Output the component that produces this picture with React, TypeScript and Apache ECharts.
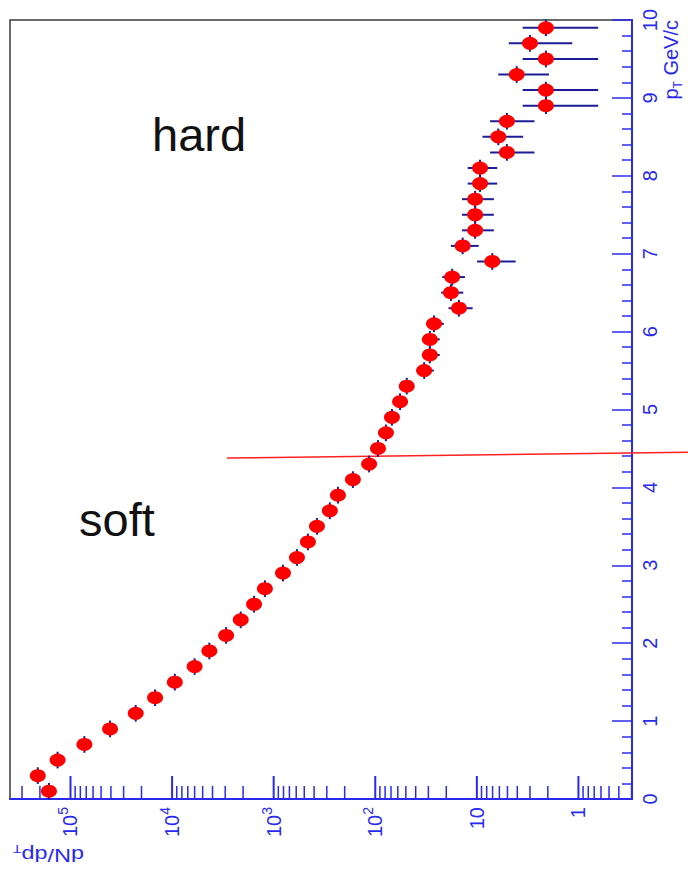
import React, { useEffect, useRef } from "react";
import * as echarts from "echarts";

// ---- data ----
const pT = [
  0.1, 0.3, 0.5, 0.7, 0.9, 1.1, 1.3, 1.5, 1.7, 1.9,
  2.1, 2.3, 2.5, 2.7, 2.9, 3.1, 3.3, 3.5, 3.7, 3.9,
  4.1, 4.3, 4.5, 4.7, 4.9, 5.1, 5.3, 5.5, 5.7, 5.9,
  6.1, 6.3, 6.5, 6.7, 6.9, 7.1, 7.3, 7.5, 7.7, 7.9,
  8.1, 8.3, 8.5, 8.7, 8.9, 9.1, 9.3, 9.5, 9.7, 9.9,
];
const dNdpT = [
  1.63e5, 2.1e5, 1.34e5, 7.3e4, 4.08e4, 2.28e4, 1.47e4, 9.4e3, 6.0e3, 4.3e3,
  2.94e3, 2.11e3, 1.56e3, 1.22e3, 810, 590, 460, 375, 280, 233,
  166, 115, 94, 78.5, 68.5, 57, 49, 33, 29, 29,
  26.4, 15, 18, 17.5, 7.05, 13.8, 10.4, 10.4, 10.4, 9.3,
  9.3, 5.06, 6.15, 5.06, 2.09, 2.09, 4.05, 2.09, 3.0, 2.09,
];
const dNdpTErr = [
  4000, 5000, 3500, 2000, 1200, 700, 450, 300, 200, 150,
  110, 80, 65, 55, 40, 30, 25, 22, 18, 16,
  13, 10, 8, 7, 6.5, 6, 7.5, 6.5, 5.8, 5.8,
  5.3, 4.0, 4.4, 4.4, 2.9, 4.2, 3.6, 3.6, 3.6, 3.0,
  3.0, 2.35, 2.65, 2.35, 1.45, 1.45, 2.1, 1.45, 1.85, 1.45,
];
const pTHalfBin = 0.107;

const xMajorTicks = [1e5, 1e4, 1e3, 1e2, 10, 1];
const xMinorMantissas = [2, 3, 4, 5, 6, 7, 8, 9];
const xTickDecades = [-1, 0, 1, 2, 3, 4, 5];
const xMin = 0.297;
const xMax = 3.94e5;

// soft/hard separator line (dN/dpT, pT), continued to the right page edge
const separator = [
  [2880, 4.377],
  [0.297, 4.443],
];

const BLUE = "#2a2aee";
const BAR = "#1c1c96";
const FONT = "'Liberation Sans', Arial, Helvetica, sans-serif";

export default function App() {
  const ref = useRef<HTMLDivElement>(null);

  useEffect(() => {
    const chart = echarts.init(ref.current!, null, { renderer: "svg" });

    const minorTicks: number[] = [];
    xTickDecades.forEach((d) =>
      xMinorMantissas.forEach((m) => {
        const v = m * Math.pow(10, d);
        if (v > xMin && v < xMax) minorTicks.push(v);
      })
    );
    const tickData = [
      ...xMajorTicks.map((v) => [v, 0, 1]),
      ...minorTicks.map((v) => [v, 0, 0]),
    ];

    const points = pT.map((p, i) => [dNdpT[i], p]);
    const errData = pT.map((p, i) => [dNdpT[i], p, dNdpTErr[i]]);

    const option: any = {
      animation: false,
      backgroundColor: "#ffffff",
      grid: {
        left: 10,
        right: 56,
        top: 20,
        bottom: 71,
        show: true,
        borderColor: "#3a3a3a",
        borderWidth: 1.5,
      },
      xAxis: {
        type: "log",
        logBase: 10,
        inverse: true,
        min: xMin,
        max: xMax,
        axisLine: { show: true, lineStyle: { color: BLUE, width: 2 } },
        axisTick: { show: false },
        splitLine: { show: false },
        axisLabel: {
          show: true,
          rotate: 90,
          margin: 8,
          showMinLabel: false,
          showMaxLabel: false,
          color: BLUE,
          fontFamily: FONT,
          fontSize: 20,
          formatter: (v: number) => {
            const e = Math.round(Math.log10(v));
            if (e === 0) return "{n|1}";
            if (e === 1) return "{n|10}";
            return "{n|10}{s|" + e + "}";
          },
          rich: {
            n: { fontSize: 20, color: BLUE, fontFamily: FONT, lineHeight: 28 },
            s: {
              fontSize: 14,
              color: BLUE,
              fontFamily: FONT,
              verticalAlign: "top",
              lineHeight: 28,
            },
          },
        },
      },
      yAxis: {
        type: "value",
        position: "right",
        min: 0,
        max: 10,
        interval: 1,
        axisLine: { show: true, lineStyle: { color: BLUE, width: 2 } },
        axisTick: {
          show: true,
          inside: true,
          length: 20,
          lineStyle: { color: BLUE, width: 1.5 },
        },
        minorTick: {
          show: true,
          splitNumber: 5,
          length: 10,
          lineStyle: { color: BLUE, width: 1.5 },
        },
        splitLine: { show: false },
        minorSplitLine: { show: false },
        axisLabel: {
          rotate: 90,
          margin: 8,
          color: BLUE,
          fontFamily: FONT,
          fontSize: 20,
        },
      },
      series: [
        {
          type: "custom",
          name: "ticks",
          coordinateSystem: "cartesian2d",
          data: tickData,
          encode: { x: 0, y: 1 },
          z: 1,
          silent: true,
          renderItem: (params: any, api: any) => {
            const v = api.value(0);
            const major = api.value(2) === 1;
            const p = api.coord([v, 0]);
            const len = major ? 23 : 13;
            return {
              type: "line",
              shape: { x1: p[0], y1: p[1], x2: p[0], y2: p[1] - len },
              style: { stroke: BLUE, lineWidth: major ? 2 : 1.5 },
            };
          },
        },
        {
          type: "custom",
          name: "separator",
          coordinateSystem: "cartesian2d",
          data: [[separator[0][0], separator[0][1], separator[1][0], separator[1][1]]],
          encode: { x: 0, y: 1 },
          clip: false,
          z: 2,
          silent: true,
          renderItem: (params: any, api: any) => {
            const p1 = api.coord([api.value(0), api.value(1)]);
            const p2 = api.coord([api.value(2), api.value(3)]);
            const xEnd = api.getWidth();
            const yEnd = p1[1] + ((p2[1] - p1[1]) * (xEnd - p1[0])) / (p2[0] - p1[0]);
            return {
              type: "line",
              shape: { x1: p1[0], y1: p1[1], x2: xEnd, y2: yEnd },
              style: { stroke: "#ff2020", lineWidth: 1.5 },
            };
          },
        },
        {
          type: "custom",
          name: "errors",
          coordinateSystem: "cartesian2d",
          data: errData,
          encode: { x: 0, y: 1 },
          z: 3,
          silent: true,
          renderItem: (params: any, api: any) => {
            const x = api.value(0);
            const y = api.value(1);
            const ex = api.value(2);
            const a = api.coord([x + ex, y]);
            const b = api.coord([Math.max(x - ex, 1e-6), y]);
            const c = api.coord([x, y - pTHalfBin]);
            const d = api.coord([x, y + pTHalfBin]);
            return {
              type: "group",
              children: [
                {
                  type: "line",
                  shape: { x1: a[0], y1: a[1], x2: b[0], y2: b[1] },
                  style: { stroke: BAR, lineWidth: 2 },
                },
                {
                  type: "line",
                  shape: { x1: c[0], y1: c[1], x2: d[0], y2: d[1] },
                  style: { stroke: BAR, lineWidth: 2 },
                },
              ],
            };
          },
        },
        {
          type: "scatter",
          name: "dN/dpT",
          data: points,
          symbol: "circle",
          symbolSize: [16, 13],
          z: 4,
          itemStyle: { color: "#ff0000", opacity: 1 },
        },
      ],
      graphic: [
        {
          type: "text",
          x: 152,
          y: 134,
          style: {
            text: "hard",
            fontSize: 47,
            fontFamily: FONT,
            fill: "#111111",
            verticalAlign: "middle",
          },
        },
        {
          type: "text",
          x: 79,
          y: 519,
          style: {
            text: "soft",
            fontSize: 47,
            fontFamily: FONT,
            fill: "#111111",
            verticalAlign: "middle",
          },
        },
        {
          type: "text",
          x: 671,
          y: 20,
          rotation: Math.PI / 2,
          style: {
            text: "{a|p}{b|T}{a| GeV/c}",
            align: "right",
            verticalAlign: "middle",
            rich: {
              a: { fontSize: 20, fontFamily: FONT, fill: BLUE, color: BLUE, lineHeight: 26 },
              b: {
                fontSize: 12,
                fontFamily: FONT,
                fill: BLUE,
                color: BLUE,
                verticalAlign: "bottom",
                lineHeight: 26,
              },
            },
          },
        },
        {
          type: "text",
          x: 84,
          y: 855,
          rotation: Math.PI,
          scaleX: 1.3,
          style: {
            text: "{a|dN/dp}{b|T}",
            align: "left",
            verticalAlign: "middle",
            rich: {
              a: { fontSize: 18, fontFamily: FONT, fill: BLUE, color: BLUE, lineHeight: 24 },
              b: {
                fontSize: 11,
                fontFamily: FONT,
                fill: BLUE,
                color: BLUE,
                verticalAlign: "bottom",
                lineHeight: 24,
              },
            },
          },
        },
      ],
    };

    chart.setOption(option);
    return () => chart.dispose();
  }, []);

  return (
    <div
      ref={ref}
      style={{
        position: "fixed",
        left: 0,
        top: 0,
        width: 688,
        height: 870,
        background: "#ffffff",
      }}
    />
  );
}
